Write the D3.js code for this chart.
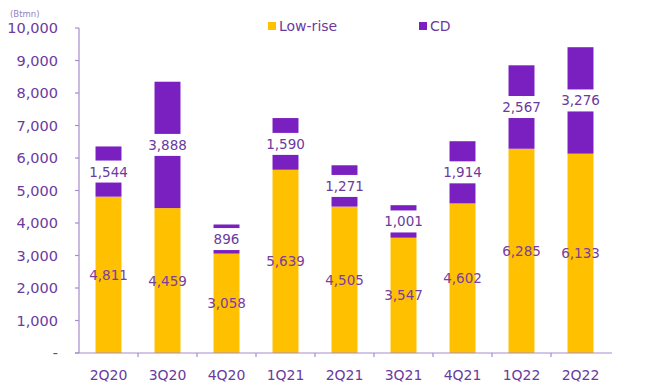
<!DOCTYPE html>
<html><head><meta charset="utf-8">
<script src="https://cdn.jsdelivr.net/npm/d3@7"></script>
<style>body{margin:0;background:#fff}svg{display:block}</style>
</head><body><svg id="c" width="647" height="390"></svg>
<script>
const categories = ["2Q20","3Q20","4Q20","1Q21","2Q21","3Q21","4Q21","1Q22","2Q22"];
const lowRise = [4811,4459,3058,5639,4505,3547,4602,6285,6133];
const cd = [1544,3888,896,1590,1271,1001,1914,2567,3276];
const yTicks = [0,1000,2000,3000,4000,5000,6000,7000,8000,9000,10000];
const seriesNames = ["Low-rise","CD"];

(function(){
const svg = d3.select("#c");
const mL = 79, mR = 610, mT = 28, mB = 353;
const x = d3.scaleBand().domain(categories).range([mL,mR]).paddingInner(0.56).paddingOuter(0.28);
const xb = d3.scaleBand().domain(categories).range([mL,mR]);
const y = d3.scaleLinear().domain([0,10000]).range([mB,mT]);
const YEL="#FFC000", PUR="#7A1FC0", TXT="#6B3A9E", AX="#A88CCB";
const font = "'DejaVu Sans', Verdana, sans-serif";

// y axis
svg.append("line").attr("x1",mL).attr("x2",mL).attr("y1",mT).attr("y2",mB).attr("stroke",AX).attr("stroke-width",1.2);
svg.selectAll(".yt").data(yTicks).enter().append("line")
  .attr("x1",mL-4).attr("x2",mL).attr("y1",d=>y(d)).attr("y2",d=>y(d)).attr("stroke",AX).attr("stroke-width",1.2);
svg.selectAll(".yl").data(yTicks).enter().append("text")
  .attr("x",58).attr("y",d=>y(d)+5).attr("text-anchor","end")
  .attr("font-family",font).attr("font-size",14.5).attr("fill",TXT)
  .text(d=>d===0?"-":d3.format(",")(d));
svg.append("text").attr("x",10).attr("y",17).attr("font-family",font).attr("font-size",8.5).attr("fill","#9A7FC0").text("(Btmn)");

// bars
categories.forEach((c,i)=>{
  const bx = x(c), bw = x.bandwidth();
  svg.append("rect").attr("x",bx).attr("width",bw).attr("y",y(lowRise[i])).attr("height",y(0)-y(lowRise[i])).attr("fill",YEL);
  svg.append("rect").attr("x",bx).attr("width",bw).attr("y",y(lowRise[i]+cd[i])).attr("height",y(lowRise[i])-y(lowRise[i]+cd[i])).attr("fill",PUR);
});
// labels
categories.forEach((c,i)=>{
  const cx = x(c)+x.bandwidth()/2;
  const ly = y(lowRise[i]/2);
  svg.append("text").attr("x",cx).attr("y",ly+5).attr("text-anchor","middle")
    .attr("font-family",font).attr("font-size",13.5).attr("fill","#7A3DA0")
    .text(d3.format(",")(lowRise[i]));
  const cy = y(lowRise[i]+cd[i]/2);
  svg.append("rect").attr("x",cx-20).attr("width",40).attr("y",cy-11).attr("height",22).attr("fill","#fff");
  svg.append("text").attr("x",cx).attr("y",cy+5).attr("text-anchor","middle")
    .attr("font-family",font).attr("font-size",13.5).attr("fill",TXT)
    .text(d3.format(",")(cd[i]));
});

// x axis
svg.append("line").attr("x1",mL-4).attr("x2",mR+2).attr("y1",mB).attr("y2",mB).attr("stroke",AX).attr("stroke-width",1.2);
svg.selectAll(".xt").data(categories.slice(1)).enter().append("line")
  .attr("x1",d=>xb(d)).attr("x2",d=>xb(d)).attr("y1",mB).attr("y2",mB+4).attr("stroke",AX).attr("stroke-width",1.2);
svg.selectAll(".xl").data(categories).enter().append("text")
  .attr("x",d=>xb(d)+xb.bandwidth()/2).attr("y",380).attr("text-anchor","middle")
  .attr("font-family",font).attr("font-size",14).attr("fill",TXT).text(d=>d);

// legend
const lg = [{n:seriesNames[0],c:YEL,x:268},{n:seriesNames[1],c:PUR,x:419}];
lg.forEach(l=>{
  svg.append("rect").attr("x",l.x).attr("y",22).attr("width",8).attr("height",8).attr("fill",l.c);
  svg.append("text").attr("x",l.x+11).attr("y",31).attr("font-family",font).attr("font-size",14).attr("fill",TXT).text(l.n);
});
})();
</script></body></html>
